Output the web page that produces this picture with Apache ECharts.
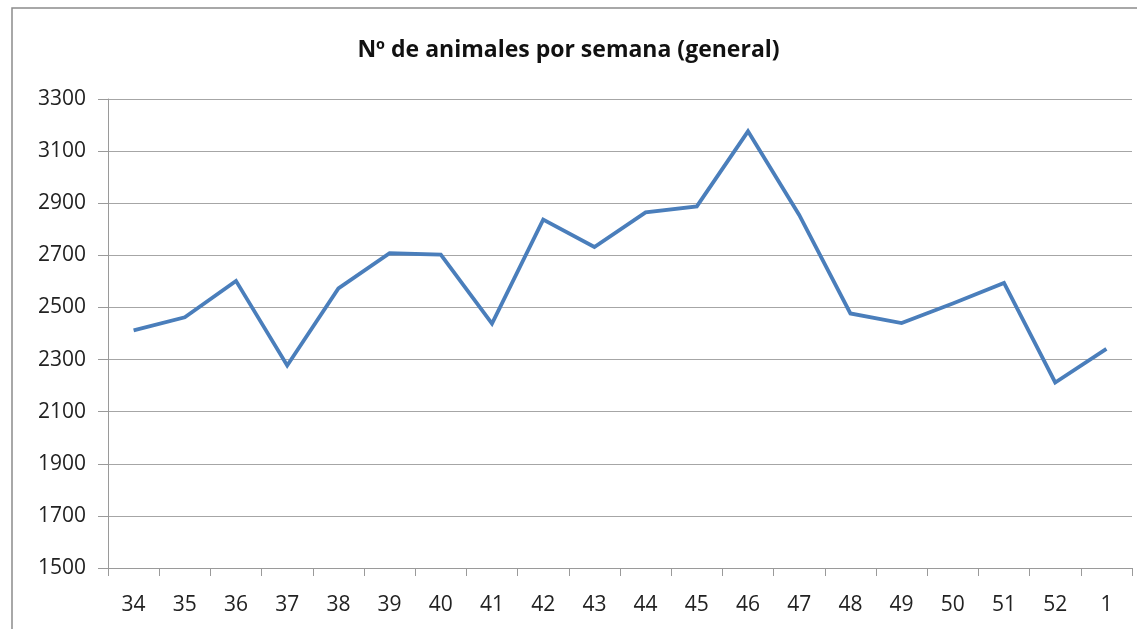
<!DOCTYPE html>
<html>
<head>
<meta charset="utf-8">
<script src="https://cdn.jsdelivr.net/npm/echarts@6/dist/echarts.min.js"></script>
<style>
  html, body { margin: 0; padding: 0; background: #fff; }
  #chart { width: 1137px; height: 629px; }
</style>
</head>
<body>
<div id="chart"></div>
<script>
// Semanas del año (de la 34 a la 1 del año siguiente)
const semanas = ['34', '35', '36', '37', '38', '39', '40', '41', '42', '43',
                 '44', '45', '46', '47', '48', '49', '50', '51', '52', '1'];
// Número de animales por semana
const animales = [2412, 2462, 2602, 2277, 2573, 2708, 2703, 2438, 2837, 2732,
                  2865, 2888, 3176, 2855, 2477, 2440, 2515, 2594, 2212, 2341];
const titulo = 'Nº de animales por semana (general)';
const yMin = 1500, yMax = 3300, yPaso = 200;

const fuente = '"Open Sans", "Liberation Sans", sans-serif';
const chart = echarts.init(document.getElementById('chart'));
chart.setOption({
  animation: false,
  backgroundColor: '#fff',
  graphic: [{
    type: 'rect',
    shape: { x: 12, y: 8, width: 1140, height: 640 },
    style: { fill: 'none', stroke: '#8c8c8c', lineWidth: 1.5 },
    silent: true
  }],
  title: {
    text: titulo,
    left: 'center',
    top: 34,
    textStyle: { fontFamily: fuente, fontWeight: 'bold', fontSize: 23, color: '#111' }
  },
  grid: { left: 108, right: 5, top: 99, bottom: 61, containLabel: false },
  xAxis: {
    type: 'category',
    data: semanas,
    boundaryGap: true,
    axisLine: { lineStyle: { color: '#9a9a9a', width: 1 } },
    axisTick: { show: true, length: 8, alignWithLabel: false, lineStyle: { color: '#9a9a9a' } },
    axisLabel: { fontFamily: fuente, fontSize: 21, color: '#222', margin: 27 },
    splitLine: { show: false }
  },
  yAxis: {
    type: 'value',
    min: yMin,
    max: yMax,
    interval: yPaso,
    axisLine: { show: true, lineStyle: { color: '#9a9a9a', width: 1 } },
    axisTick: { show: true, length: 10, lineStyle: { color: '#9a9a9a' } },
    axisLabel: { fontFamily: fuente, fontSize: 21, color: '#222', margin: 22,
                 formatter: v => String(v) },
    splitLine: { show: true, lineStyle: { color: '#a6a6a6', width: 1.2 } }
  },
  series: [{
    type: 'line',
    data: animales,
    symbol: 'none',
    lineStyle: { color: '#4a7ebb', width: 3.8, join: 'miter' }
  }]
});
</script>
</body>
</html>
